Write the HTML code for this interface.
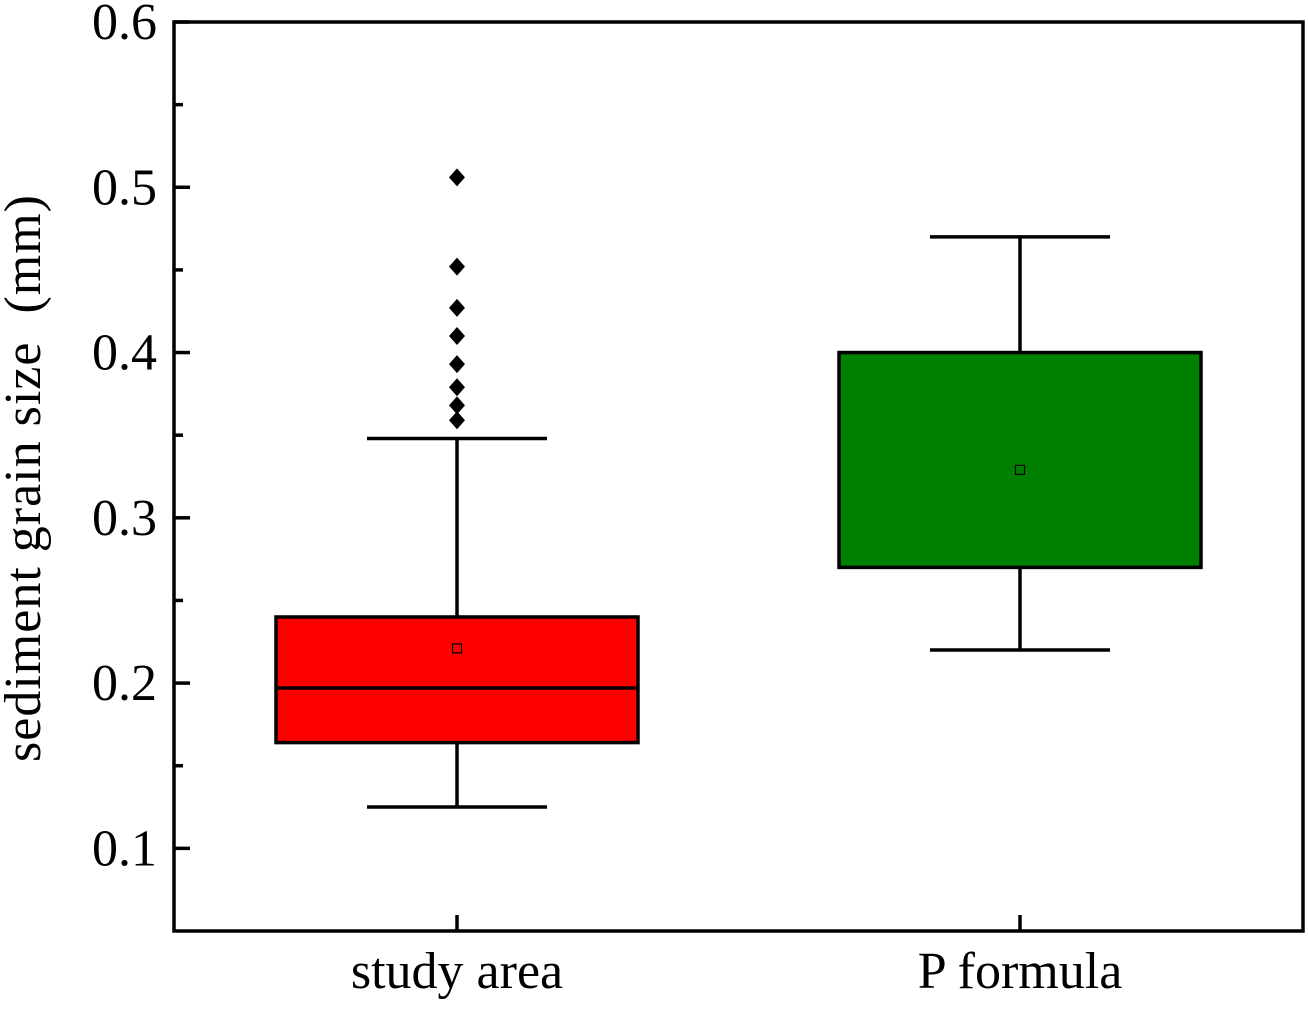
<!DOCTYPE html>
<html><head><meta charset="utf-8"><style>
body{margin:0;background:#fff}
text{font-family:"Liberation Serif",serif;fill:#000}
</style></head><body>
<svg id="chart" width="1308" height="1005" xmlns="http://www.w3.org/2000/svg"></svg>
<script>
const categories=["study area","P formula"];
const whiskerLow=[0.125,0.22];
const q1=[0.164,0.27];
const median=[0.197,null];
const q3=[0.240,0.40];
const whiskerHigh=[0.348,0.47];
const means=[0.221,0.329];
const colors=["#ff0000","#008000"];
const outliers=[[0.506,0.452,0.427,0.410,0.393,0.379,0.368,0.359],[]];
const yTicks=[0.1,0.2,0.3,0.4,0.5,0.6];
const yMinor=[0.15,0.25,0.35,0.45,0.55];

const L=174,R=1303,T=22,B=931,yMin=0.05,yMax=0.6;
const ns="http://www.w3.org/2000/svg";
const svg=document.getElementById('chart');
const y=v=>B-(v-yMin)/(yMax-yMin)*(B-T);
const x=i=>457+i*563;
function el(tag,attrs,parent){const e=document.createElementNS(ns,tag);for(const k in attrs)e.setAttribute(k,attrs[k]);(parent||svg).appendChild(e);return e;}

categories.forEach((c,i)=>{
  const g=el('g',{});
  
  
  const cx=x(i),bw=362,cw=180;
  el('line',{x1:cx,x2:cx,y1:y(whiskerHigh[i]),y2:y(q3[i]),stroke:'#000','stroke-width':3.5},g);
  el('line',{x1:cx,x2:cx,y1:y(q1[i]),y2:y(whiskerLow[i]),stroke:'#000','stroke-width':3.5},g);
  el('line',{x1:cx-cw/2,x2:cx+cw/2,y1:y(whiskerHigh[i]),y2:y(whiskerHigh[i]),stroke:'#000','stroke-width':3.5},g);
  el('line',{x1:cx-cw/2,x2:cx+cw/2,y1:y(whiskerLow[i]),y2:y(whiskerLow[i]),stroke:'#000','stroke-width':3.5},g);
  el('rect',{x:cx-bw/2,y:y(q3[i]),width:bw,height:y(q1[i])-y(q3[i]),fill:colors[i],stroke:'#000','stroke-width':3.5},g);
  if(median[i]!=null) el('line',{x1:cx-bw/2,x2:cx+bw/2,y1:y(median[i]),y2:y(median[i]),stroke:'#000','stroke-width':3.5},g);
  el('rect',{x:cx-4.5,y:y(means[i])-4.5,width:9,height:9,fill:'none',stroke:'#000','stroke-width':1.2},g);
  outliers[i].forEach(v=>{
    const p=el('path',{d:`M${cx} ${y(v)-9}L${cx+8} ${y(v)}L${cx} ${y(v)+9}L${cx-8} ${y(v)}Z`,fill:'#000'},g);
    
    
  });
  const t=el('text',{x:cx,y:988,'font-size':52,'text-anchor':'middle'});
  t.textContent=c;
  
  
  el('line',{x1:cx,x2:cx,y1:B,y2:B-16,stroke:'#000','stroke-width':3.5});
});
yTicks.forEach(v=>{
  el('line',{x1:L,x2:L+16,y1:y(v),y2:y(v),stroke:'#000','stroke-width':3.5});
  const t=el('text',{x:157,y:y(v)+17,'font-size':52,'text-anchor':'end'});
  t.textContent=v.toFixed(1);
  
  
});
yMinor.forEach(v=>el('line',{x1:L,x2:L+9,y1:y(v),y2:y(v),stroke:'#000','stroke-width':3.5}));
const f=el('rect',{x:L,y:T,width:R-L,height:B-T,fill:'none',stroke:'#000','stroke-width':3.5});


const yt=el('text',{x:0,y:0,'font-size':52,'text-anchor':'middle',transform:'translate(40,478) rotate(-90)'});
yt.textContent='sediment grain size  (mm)';
yt.setAttribute('style','white-space:pre;letter-spacing:1px');


</script>
</body></html>
